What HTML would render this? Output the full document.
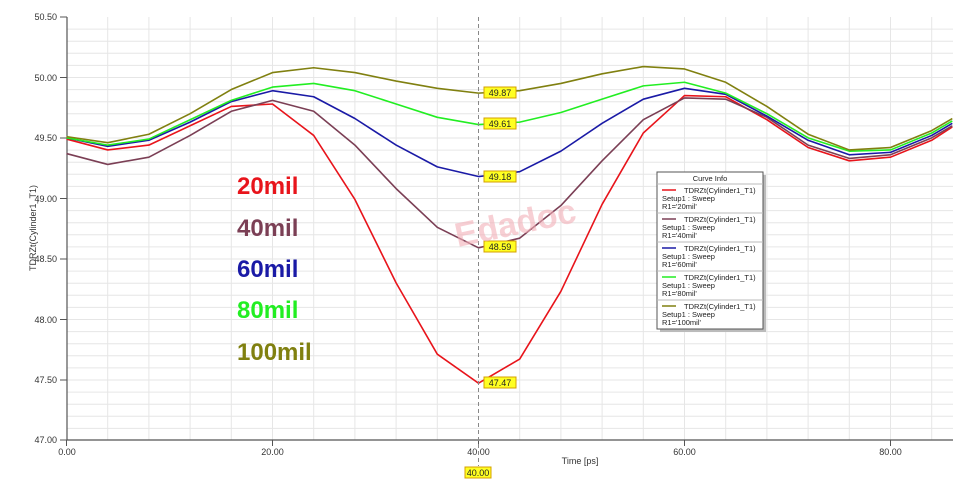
<!DOCTYPE html>
<html><head><meta charset="utf-8"><style>
body{margin:0;background:#fff;}
svg{display:block;font-family:"Liberation Sans",sans-serif;}
</style></head><body>
<svg width="960" height="485" xmlns="http://www.w3.org/2000/svg">
<rect width="960" height="485" fill="#fff"/>
<g stroke="#e6e6e6" stroke-width="1">
<!-- horizontal grid every 0.1 -->
<line x1="67" x2="953" y1="29.1" y2="29.1"/><line x1="67" x2="953" y1="41.2" y2="41.2"/><line x1="67" x2="953" y1="53.3" y2="53.3"/><line x1="67" x2="953" y1="65.4" y2="65.4"/><line x1="67" x2="953" y1="77.5" y2="77.5"/>
<line x1="67" x2="953" y1="89.6" y2="89.6"/><line x1="67" x2="953" y1="101.7" y2="101.7"/><line x1="67" x2="953" y1="113.8" y2="113.8"/><line x1="67" x2="953" y1="125.9" y2="125.9"/><line x1="67" x2="953" y1="138" y2="138"/>
<line x1="67" x2="953" y1="150.1" y2="150.1"/><line x1="67" x2="953" y1="162.2" y2="162.2"/><line x1="67" x2="953" y1="174.3" y2="174.3"/><line x1="67" x2="953" y1="186.4" y2="186.4"/><line x1="67" x2="953" y1="198.5" y2="198.5"/>
<line x1="67" x2="953" y1="210.6" y2="210.6"/><line x1="67" x2="953" y1="222.7" y2="222.7"/><line x1="67" x2="953" y1="234.8" y2="234.8"/><line x1="67" x2="953" y1="246.9" y2="246.9"/><line x1="67" x2="953" y1="259" y2="259"/>
<line x1="67" x2="953" y1="271.1" y2="271.1"/><line x1="67" x2="953" y1="283.2" y2="283.2"/><line x1="67" x2="953" y1="295.3" y2="295.3"/><line x1="67" x2="953" y1="307.4" y2="307.4"/><line x1="67" x2="953" y1="319.5" y2="319.5"/>
<line x1="67" x2="953" y1="331.6" y2="331.6"/><line x1="67" x2="953" y1="343.7" y2="343.7"/><line x1="67" x2="953" y1="355.8" y2="355.8"/><line x1="67" x2="953" y1="367.9" y2="367.9"/><line x1="67" x2="953" y1="380" y2="380"/>
<line x1="67" x2="953" y1="392.1" y2="392.1"/><line x1="67" x2="953" y1="404.2" y2="404.2"/><line x1="67" x2="953" y1="416.3" y2="416.3"/><line x1="67" x2="953" y1="428.4" y2="428.4"/>
<!-- vertical grid every 4 -->
<line y1="17" y2="440" x1="107.7" x2="107.7"/><line y1="17" y2="440" x1="148.9" x2="148.9"/><line y1="17" y2="440" x1="190.1" x2="190.1"/><line y1="17" y2="440" x1="231.3" x2="231.3"/><line y1="17" y2="440" x1="272.5" x2="272.5"/>
<line y1="17" y2="440" x1="313.7" x2="313.7"/><line y1="17" y2="440" x1="354.9" x2="354.9"/><line y1="17" y2="440" x1="396.1" x2="396.1"/><line y1="17" y2="440" x1="437.3" x2="437.3"/>
<line y1="17" y2="440" x1="519.7" x2="519.7"/><line y1="17" y2="440" x1="560.9" x2="560.9"/><line y1="17" y2="440" x1="602.1" x2="602.1"/><line y1="17" y2="440" x1="643.3" x2="643.3"/><line y1="17" y2="440" x1="684.5" x2="684.5"/>
<line y1="17" y2="440" x1="725.7" x2="725.7"/><line y1="17" y2="440" x1="766.9" x2="766.9"/><line y1="17" y2="440" x1="808.1" x2="808.1"/><line y1="17" y2="440" x1="849.3" x2="849.3"/><line y1="17" y2="440" x1="890.5" x2="890.5"/><line y1="17" y2="440" x1="931.7" x2="931.7"/>
</g>
<!-- axes -->
<line x1="67" y1="17" x2="67" y2="440" stroke="#555" stroke-width="1.2"/>
<line x1="67" y1="440" x2="953" y2="440" stroke="#555" stroke-width="1.2"/>
<g stroke="#555">
<line x1="60" x2="67" y1="17" y2="17"/><line x1="60" x2="67" y1="77.5" y2="77.5"/><line x1="60" x2="67" y1="138" y2="138"/><line x1="60" x2="67" y1="198.5" y2="198.5"/><line x1="60" x2="67" y1="259" y2="259"/><line x1="60" x2="67" y1="319.5" y2="319.5"/><line x1="60" x2="67" y1="380" y2="380"/><line x1="60" x2="67" y1="440" y2="440"/>
<line x1="66.5" x2="66.5" y1="440" y2="446"/><line x1="272.5" x2="272.5" y1="440" y2="446"/><line x1="478.5" x2="478.5" y1="440" y2="446"/><line x1="684.5" x2="684.5" y1="440" y2="446"/><line x1="890.5" x2="890.5" y1="440" y2="446"/>
</g>
<g font-size="9" fill="#333" text-anchor="end">
<text x="57" y="20">50.50</text><text x="57" y="81">50.00</text><text x="57" y="141">49.50</text><text x="57" y="202">49.00</text><text x="57" y="262">48.50</text><text x="57" y="323">48.00</text><text x="57" y="383">47.50</text><text x="57" y="443">47.00</text>
</g>
<g font-size="9" fill="#333" text-anchor="middle">
<text x="67" y="455">0.00</text><text x="272.5" y="455">20.00</text><text x="478.5" y="455">40.00</text><text x="684.5" y="455">60.00</text><text x="890.5" y="455">80.00</text>
<text x="580" y="464">Time [ps]</text>
<text transform="translate(36,228) rotate(-90)">TDRZt(Cylinder1_T1)</text>
</g>
<!-- curves -->
<g transform="translate(66.5,6120.42) scale(10.3,-120.86)" fill="none" stroke-width="1.6" stroke-linejoin="round">
<polyline vector-effect="non-scaling-stroke" stroke="#e8141b" points="0,49.49 4,49.40 8,49.44 12,49.6 16,49.76 20,49.78 24,49.52 28,48.99 32,48.30 36,47.71 40,47.47 44,47.67 48,48.23 52,48.95 56,49.54 60,49.85 64,49.84 68,49.65 72,49.42 76,49.31 80,49.34 84,49.48 86,49.59"/>
<polyline vector-effect="non-scaling-stroke" stroke="#7b3f55" points="0,49.37 4,49.28 8,49.34 12,49.52 16,49.72 20,49.81 24,49.72 28,49.44 32,49.08 36,48.76 40,48.59 44,48.67 48,48.94 52,49.31 56,49.65 60,49.83 64,49.82 68,49.67 72,49.44 76,49.33 80,49.36 84,49.5 86,49.6"/>
<polyline vector-effect="non-scaling-stroke" stroke="#1a1aa6" points="0,49.50 4,49.43 8,49.48 12,49.63 16,49.8 20,49.89 24,49.84 28,49.66 32,49.44 36,49.26 40,49.18 44,49.22 48,49.39 52,49.62 56,49.82 60,49.91 64,49.86 68,49.68 72,49.48 76,49.36 80,49.38 84,49.52 86,49.62"/>
<polyline vector-effect="non-scaling-stroke" stroke="#22ee22" points="0,49.50 4,49.44 8,49.49 12,49.65 16,49.81 20,49.92 24,49.95 28,49.89 32,49.78 36,49.67 40,49.61 44,49.63 48,49.71 52,49.82 56,49.93 60,49.96 64,49.87 68,49.7 72,49.5 76,49.39 80,49.4 84,49.54 86,49.64"/>
<polyline vector-effect="non-scaling-stroke" stroke="#808010" points="0,49.51 4,49.46 8,49.53 12,49.7 16,49.9 20,50.04 24,50.08 28,50.04 32,49.97 36,49.91 40,49.87 44,49.89 48,49.95 52,50.03 56,50.09 60,50.07 64,49.96 68,49.76 72,49.53 76,49.4 80,49.42 84,49.56 86,49.66"/>
</g>
<!-- marker line -->
<line x1="478.5" y1="17" x2="478.5" y2="466" stroke="#888" stroke-dasharray="4,3"/>
<g font-size="9" fill="#222" text-anchor="middle">
<rect x="484" y="87" width="32" height="11" fill="#ffff22" stroke="#d4a000"/><text x="500" y="96">49.87</text>
<rect x="484" y="118" width="32" height="11" fill="#ffff22" stroke="#d4a000"/><text x="500" y="127">49.61</text>
<rect x="484" y="171" width="32" height="11" fill="#ffff22" stroke="#d4a000"/><text x="500" y="180">49.18</text>
<rect x="484" y="241" width="32" height="11" fill="#ffff22" stroke="#d4a000"/><text x="500" y="250">48.59</text>
<rect x="484" y="377" width="32" height="11" fill="#ffff22" stroke="#d4a000"/><text x="500" y="386">47.47</text>
<rect x="465" y="467" width="26" height="11" fill="#ffff22" stroke="#d4a000"/><text x="478" y="476">40.00</text>
</g>
<!-- watermark -->
<text x="455" y="238" font-size="34" font-weight="bold" fill="#f3b0b8" opacity="0.6" transform="rotate(-12 500 230)">Edadoc</text>
<!-- big labels -->
<g font-size="24" font-weight="bold">
<text x="237" y="194" fill="#e8141b">20mil</text>
<text x="237" y="236" fill="#7b3f55">40mil</text>
<text x="237" y="277" fill="#1a1aa6">60mil</text>
<text x="237" y="318" fill="#22ee22">80mil</text>
<text x="237" y="360" fill="#808010">100mil</text>
</g>
<!-- legend -->
<rect x="660" y="175" width="106" height="157" fill="#bbb"/>
<rect x="657" y="172" width="106" height="157" fill="#fff" stroke="#555"/>
<g font-size="7.5" fill="#222">
<text x="710" y="181" text-anchor="middle">Curve Info</text>
<line x1="657" y1="184" x2="763" y2="184" stroke="#bbb"/>
<line x1="662" y1="190" x2="676" y2="190" stroke="#e8141b" stroke-width="1.5"/><text x="684" y="193">TDRZt(Cylinder1_T1)</text><text x="662" y="201">Setup1 : Sweep</text><text x="662" y="209">R1='20mil'</text>
<line x1="657" y1="213" x2="763" y2="213" stroke="#bbb"/>
<line x1="662" y1="219" x2="676" y2="219" stroke="#7b3f55" stroke-width="1.5"/><text x="684" y="222">TDRZt(Cylinder1_T1)</text><text x="662" y="230">Setup1 : Sweep</text><text x="662" y="238">R1='40mil'</text>
<line x1="657" y1="242" x2="763" y2="242" stroke="#bbb"/>
<line x1="662" y1="248" x2="676" y2="248" stroke="#1a1aa6" stroke-width="1.5"/><text x="684" y="251">TDRZt(Cylinder1_T1)</text><text x="662" y="259">Setup1 : Sweep</text><text x="662" y="267">R1='60mil'</text>
<line x1="657" y1="271" x2="763" y2="271" stroke="#bbb"/>
<line x1="662" y1="277" x2="676" y2="277" stroke="#22ee22" stroke-width="1.5"/><text x="684" y="280">TDRZt(Cylinder1_T1)</text><text x="662" y="288">Setup1 : Sweep</text><text x="662" y="296">R1='80mil'</text>
<line x1="657" y1="300" x2="763" y2="300" stroke="#bbb"/>
<line x1="662" y1="306" x2="676" y2="306" stroke="#808010" stroke-width="1.5"/><text x="684" y="309">TDRZt(Cylinder1_T1)</text><text x="662" y="317">Setup1 : Sweep</text><text x="662" y="325">R1='100mil'</text>
</g>
</svg>
</body></html>
